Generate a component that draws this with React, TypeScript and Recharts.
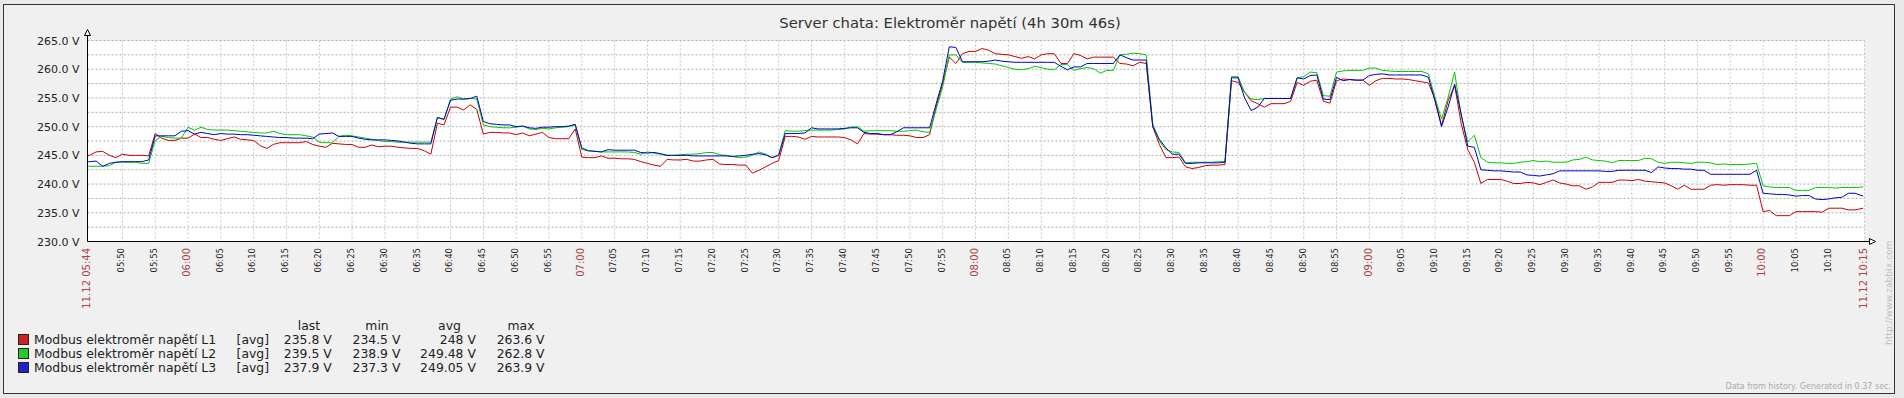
import React from "react";
import { LineChart, Line, XAxis, YAxis, CartesianGrid } from "recharts";

const times = [
  "05:44:41",
  "05:45", "05:46", "05:47", "05:48", "05:49",
  "05:50", "05:51", "05:52", "05:53", "05:54", "05:55", "05:56", "05:57", "05:58", "05:59",
  "06:00", "06:01", "06:02", "06:03", "06:04", "06:05", "06:06", "06:07", "06:08", "06:09",
  "06:10", "06:11", "06:12", "06:13", "06:14", "06:15", "06:16", "06:17", "06:18", "06:19",
  "06:20", "06:21", "06:22", "06:23", "06:24", "06:25", "06:26", "06:27", "06:28", "06:29",
  "06:30", "06:31", "06:32", "06:33", "06:34", "06:35", "06:36", "06:37", "06:38", "06:39",
  "06:40", "06:41", "06:42", "06:43", "06:44", "06:45", "06:46", "06:47", "06:48", "06:49",
  "06:50", "06:51", "06:52", "06:53", "06:54", "06:55", "06:56", "06:57", "06:58", "06:59",
  "07:00", "07:01", "07:02", "07:03", "07:04", "07:05", "07:06", "07:07", "07:08", "07:09",
  "07:10", "07:11", "07:12", "07:13", "07:14", "07:15", "07:16", "07:17", "07:18", "07:19",
  "07:20", "07:21", "07:22", "07:23", "07:24", "07:25", "07:26", "07:27", "07:28", "07:29",
  "07:30", "07:31", "07:32", "07:33", "07:34", "07:35", "07:36", "07:37", "07:38", "07:39",
  "07:40", "07:41", "07:42", "07:43", "07:44", "07:45", "07:46", "07:47", "07:48", "07:49",
  "07:50", "07:51", "07:52", "07:53", "07:54", "07:55", "07:56", "07:57", "07:58", "07:59",
  "08:00", "08:01", "08:02", "08:03", "08:04", "08:05", "08:06", "08:07", "08:08", "08:09",
  "08:10", "08:11", "08:12", "08:13", "08:14", "08:15", "08:16", "08:17", "08:18", "08:19",
  "08:20", "08:21", "08:22", "08:23", "08:24", "08:25", "08:26", "08:27", "08:28", "08:29",
  "08:30", "08:31", "08:32", "08:33", "08:34", "08:35", "08:36", "08:37", "08:38", "08:39",
  "08:40", "08:41", "08:42", "08:43", "08:44", "08:45", "08:46", "08:47", "08:48", "08:49",
  "08:50", "08:51", "08:52", "08:53", "08:54", "08:55", "08:56", "08:57", "08:58", "08:59",
  "09:00", "09:01", "09:02", "09:03", "09:04", "09:05", "09:06", "09:07", "09:08", "09:09",
  "09:10", "09:11", "09:12", "09:13", "09:14", "09:15", "09:16", "09:17", "09:18", "09:19",
  "09:20", "09:21", "09:22", "09:23", "09:24", "09:25", "09:26", "09:27", "09:28", "09:29",
  "09:30", "09:31", "09:32", "09:33", "09:34", "09:35", "09:36", "09:37", "09:38", "09:39",
  "09:40", "09:41", "09:42", "09:43", "09:44", "09:45", "09:46", "09:47", "09:48", "09:49",
  "09:50", "09:51", "09:52", "09:53", "09:54", "09:55", "09:56", "09:57", "09:58", "09:59",
  "10:00", "10:01", "10:02", "10:03", "10:04", "10:05", "10:06", "10:07", "10:08", "10:09",
  "10:10", "10:11", "10:12", "10:13", "10:14",
  "10:15:15",
];

const seriesL1 = [
  245.0,
  245.0, 245.6, 245.7, 245.0, 244.6,
  245.2, 245.0, 245.0, 245.0, 244.9, 248.8, 248.0, 247.6, 247.6, 248.0,
  248.0, 248.7, 248.1, 248.1, 247.8, 247.6, 247.9, 248.2, 247.8, 247.7,
  247.6, 246.7, 246.2, 246.9, 247.2, 247.2, 247.2, 247.2, 247.4, 246.9,
  246.6, 246.4, 247.1, 247.0, 246.9, 246.9, 246.4, 246.4, 246.8, 246.5,
  246.6, 246.6, 246.4, 246.3, 246.2, 246.2, 245.8, 245.2, 250.6, 250.3,
  253.4, 253.4, 252.9, 253.8, 253.0, 248.7, 249.0, 249.0, 248.9, 248.9,
  248.6, 248.9, 248.4, 248.7, 249.0, 248.1, 247.9, 247.9, 247.9, 249.6,
  244.7, 244.6, 244.6, 244.9, 244.5, 244.5, 244.4, 244.4, 244.3, 243.9,
  243.6, 243.3, 243.1, 244.3, 244.2, 244.2, 244.3, 244.0, 244.0, 244.2,
  244.3, 243.5, 243.4, 243.4, 243.3, 243.3, 241.9, 242.4, 243.0, 243.6,
  244.1, 248.3, 248.3, 248.2, 247.8, 248.3, 248.2, 248.2, 248.2, 248.2,
  248.1, 247.7, 247.0, 248.8, 248.7, 248.7, 248.6, 248.6, 248.5, 248.5,
  248.4, 248.1, 248.1, 248.6, 253.5, 257.5, 262.1, 261.0, 262.7, 263.1,
  263.1, 263.6, 263.3, 262.7, 262.6, 262.5, 262.2, 261.9, 262.2, 261.8,
  262.5, 262.7, 262.7, 261.0, 261.0, 262.7, 262.4, 261.8, 262.1, 262.1,
  262.1, 262.1, 261.0, 260.9, 260.6, 261.2, 261.0, 250.0, 246.9, 244.6,
  244.6, 244.7, 243.0, 242.7, 242.9, 243.2, 243.3, 243.3, 243.4, 258.0,
  257.7, 256.0, 254.5, 254.0, 253.4, 254.0, 254.0, 254.0, 254.4, 257.7,
  257.2, 257.9, 258.1, 254.4, 254.1, 258.0, 258.3, 258.2, 258.1, 258.1,
  257.2, 258.0, 258.4, 258.4, 258.3, 258.3, 258.2, 258.0, 257.8, 257.6,
  254.8, 250.2, 254.5, 257.2, 250.5, 246.0, 243.8, 240.1, 240.8, 240.8,
  240.8, 240.5, 240.1, 240.1, 240.3, 240.2, 239.9, 240.3, 240.7, 240.2,
  240.0, 239.7, 239.7, 239.1, 239.5, 240.3, 240.3, 240.3, 240.7, 240.7,
  240.6, 240.8, 240.5, 240.4, 240.3, 240.2, 239.7, 239.1, 239.8, 239.1,
  239.1, 239.1, 239.8, 239.9, 239.8, 239.9, 239.9, 239.9, 239.8, 239.8,
  235.2, 235.4, 234.5, 234.5, 234.5, 235.2, 235.2, 235.2, 235.2, 235.1,
  235.8, 235.8, 235.8, 235.5, 235.5,
  235.8,
];

const seriesL2 = [
  243.1,
  243.1, 243.1, 243.1, 243.2, 243.8,
  243.8, 243.8, 243.8, 243.6, 243.6, 247.6, 248.3, 248.1, 248.0, 248.0,
  249.9, 249.4, 249.9, 249.5, 249.4, 249.4, 249.4, 249.3, 249.2, 249.1,
  249.0, 248.9, 248.9, 249.2, 248.8, 248.6, 248.6, 248.6, 248.4, 248.2,
  247.3, 247.2, 247.2, 248.3, 248.5, 248.4, 248.2, 248.0, 247.8, 247.6,
  247.4, 247.4, 247.3, 247.3, 247.3, 247.3, 247.3, 247.3, 251.6, 251.2,
  254.8, 255.2, 254.8, 254.9, 254.8, 250.3, 250.0, 249.9, 249.8, 249.8,
  249.9, 250.1, 249.6, 249.5, 249.7, 249.6, 249.8, 249.9, 250.0, 250.3,
  246.0, 245.8, 245.7, 245.6, 245.6, 245.6, 245.6, 245.6, 245.5, 245.2,
  245.6, 245.4, 245.2, 245.0, 245.0, 245.1, 245.2, 245.2, 245.3, 245.5,
  245.5, 245.1, 245.0, 244.8, 244.6, 244.7, 245.0, 245.6, 245.2, 244.6,
  245.1, 249.3, 249.2, 249.2, 249.3, 249.4, 249.4, 249.4, 249.4, 249.5,
  249.6, 249.9, 250.0, 249.2, 249.3, 249.3, 249.3, 249.3, 249.2, 249.2,
  249.3, 249.4, 249.1, 249.0, 253.0, 257.0, 262.5, 262.5, 261.2, 261.2,
  261.2, 261.1, 261.0, 260.9, 260.6, 260.3, 260.0, 259.9, 260.1, 260.5,
  260.3, 260.0, 259.9, 260.8, 260.8, 259.8, 260.1, 260.3, 260.1, 259.3,
  259.8, 259.8, 262.5, 262.6, 262.8, 262.7, 262.5, 250.5, 247.5, 246.0,
  245.6, 245.5, 243.7, 243.8, 243.8, 243.8, 243.8, 243.9, 243.9, 258.7,
  258.7, 256.0, 254.8, 254.7, 254.9, 254.9, 254.9, 254.9, 254.9, 258.5,
  258.7, 259.5, 259.4, 255.4, 255.3, 259.5, 259.7, 259.8, 259.8, 259.8,
  260.2, 260.2, 259.8, 259.7, 259.6, 259.6, 259.6, 259.6, 259.6, 259.2,
  255.1, 251.3, 255.1, 259.5, 251.9, 247.3, 248.5, 244.6, 243.8, 243.7,
  243.7, 243.6, 243.6, 243.8, 243.9, 244.1, 243.9, 244.0, 243.8, 243.8,
  243.8, 244.2, 244.3, 244.7, 244.2, 244.1, 244.0, 243.7, 244.1, 244.1,
  244.1, 244.1, 244.5, 244.4, 243.8, 243.6, 243.8, 243.8, 243.7, 243.6,
  243.8, 243.8, 243.7, 243.4, 243.5, 243.4, 243.4, 243.4, 243.5, 243.6,
  239.7, 239.5, 239.4, 239.4, 239.4, 238.9, 238.9, 238.9, 239.4, 239.4,
  239.4, 239.3, 239.4, 239.4, 239.4,
  239.5,
];

const seriesL3 = [
  243.9,
  243.9, 244.0, 243.1, 243.6, 243.8,
  243.9, 243.9, 243.9, 243.9, 244.2, 248.4, 248.4, 248.4, 248.4, 249.2,
  249.3, 248.7, 249.0, 248.8, 248.6, 248.8, 248.7, 248.7, 248.6, 248.6,
  248.5, 248.4, 248.3, 248.2, 248.1, 248.1, 248.0, 248.0, 248.0, 247.9,
  248.7, 248.8, 248.9, 248.3, 248.3, 248.3, 248.0, 247.8, 247.7, 247.7,
  247.7, 247.6, 247.5, 247.3, 247.1, 247.0, 247.0, 247.0, 251.6, 251.3,
  254.6, 254.8, 254.8, 254.9, 255.3, 250.9, 250.5, 250.4, 250.3, 250.3,
  250.0, 250.1, 249.8, 249.7, 249.9, 249.9, 250.0, 250.0, 250.1, 250.4,
  246.3, 245.8, 245.7, 245.6, 246.0, 245.9, 245.9, 245.9, 245.9, 245.5,
  245.4, 245.5, 245.3, 245.0, 245.0, 245.0, 245.0, 244.9, 244.9, 244.9,
  244.9, 244.9, 244.9, 244.8, 244.9, 245.0, 245.2, 245.3, 245.1, 244.6,
  245.0, 248.8, 248.8, 248.8, 248.9, 249.8, 249.6, 249.6, 249.6, 249.6,
  249.7, 249.8, 249.8, 249.0, 248.8, 248.8, 248.6, 248.6, 249.1, 249.8,
  249.8, 249.8, 249.8, 249.8, 254.0, 258.0, 263.9, 263.8, 261.3, 261.3,
  261.3, 261.3, 261.4, 261.6, 261.4, 261.3, 261.2, 261.2, 261.2, 261.2,
  261.2, 261.2, 261.2, 260.5, 259.9, 260.4, 260.4, 261.0, 261.0, 261.0,
  261.0, 261.0, 262.5, 262.0, 261.6, 261.6, 261.6, 250.0, 247.8, 246.3,
  245.2, 245.2, 243.6, 243.6, 243.7, 243.7, 243.7, 243.7, 243.8, 258.5,
  258.5, 255.0, 252.8, 253.4, 254.9, 254.9, 254.9, 254.9, 254.9, 258.5,
  258.3, 258.9, 259.0, 254.8, 254.7, 258.6, 258.0, 258.2, 258.1, 258.1,
  258.9, 259.1, 259.2, 259.0, 259.0, 259.0, 259.0, 259.0, 259.0, 258.6,
  254.5, 250.0, 253.4, 257.4, 252.2, 246.6, 246.4, 242.5, 242.4, 242.3,
  242.3, 242.2, 242.1, 242.1, 241.6, 241.5, 241.4, 241.6, 241.8, 242.3,
  242.3, 242.3, 242.3, 242.3, 242.3, 242.3, 242.2, 242.2, 242.4, 242.4,
  242.4, 242.4, 242.4, 242.0, 243.0, 242.8, 242.7, 242.7, 242.6, 242.6,
  242.4, 242.4, 241.7, 241.7, 241.7, 241.7, 241.7, 241.7, 241.7, 242.4,
  238.4, 238.3, 238.2, 238.2, 238.1, 237.9, 238.0, 238.0, 237.4, 237.3,
  237.4, 237.6, 237.7, 238.4, 238.4,
  237.9,
];

const seriesNames = [
  "Modbus elektroměr napětí L1",
  "Modbus elektroměr napětí L2",
  "Modbus elektroměr napětí L3",
];
const seriesColors = ["#C80000", "#00C800", "#0000C8"];
const swatchColors = ["#CC2222", "#22CC22", "#2222CC"];
const statHeaders = ["last", "min", "avg", "max"];
const statLast = ["235.8 V", "239.5 V", "237.9 V"];
const statMin = ["234.5 V", "238.9 V", "237.3 V"];
const statAvg = ["248 V", "249.48 V", "249.05 V"];
const statMax = ["263.6 V", "262.8 V", "263.9 V"];

const yTicks = [230, 232.5, 235, 237.5, 240, 242.5, 245, 247.5, 250, 252.5, 255, 257.5, 260, 262.5, 265];

const xTickTimes = [
  "05:44:41", "05:50", "05:55", "06:00", "06:05", "06:10", "06:15", "06:20", "06:25", "06:30",
  "06:35", "06:40", "06:45", "06:50", "06:55", "07:00", "07:05", "07:10", "07:15", "07:20",
  "07:25", "07:30", "07:35", "07:40", "07:45", "07:50", "07:55", "08:00", "08:05", "08:10",
  "08:15", "08:20", "08:25", "08:30", "08:35", "08:40", "08:45", "08:50", "08:55", "09:00",
  "09:05", "09:10", "09:15", "09:20", "09:25", "09:30", "09:35", "09:40", "09:45", "09:50",
  "09:55", "10:00", "10:05", "10:10", "10:15:27",
];
const xTickLabels = [
  "11.12 05:44", "05:50", "05:55", "06:00", "06:05", "06:10", "06:15", "06:20", "06:25", "06:30",
  "06:35", "06:40", "06:45", "06:50", "06:55", "07:00", "07:05", "07:10", "07:15", "07:20",
  "07:25", "07:30", "07:35", "07:40", "07:45", "07:50", "07:55", "08:00", "08:05", "08:10",
  "08:15", "08:20", "08:25", "08:30", "08:35", "08:40", "08:45", "08:50", "08:55", "09:00",
  "09:05", "09:10", "09:15", "09:20", "09:25", "09:30", "09:35", "09:40", "09:45", "09:50",
  "09:55", "10:00", "10:05", "10:10", "11.12 10:15",
];

const TITLE = "Server chata: Elektroměr napětí (4h 30m 46s)";
const FOOTER = "Data from history. Generated in 0.37 sec.";
const URL_TEXT = "http://www.zabbix.com";

const toMin = (s: string) => {
  const p = s.split(":");
  return Number(p[0]) * 60 + Number(p[1]) + (p[2] ? Number(p[2]) / 60 : 0);
};

const data = times.map((t, i) => ({
  t: toMin(t),
  l1: seriesL1[i],
  l2: seriesL2[i],
  l3: seriesL3[i],
}));

const xTickValues = xTickTimes.map(toMin);
const FONT = "DejaVu Sans";

const XTick = (props: any) => {
  const { x, payload } = props;
  const idx = xTickValues.findIndex((v) => Math.abs(v - payload.value) < 1e-6);
  const label = idx >= 0 ? xTickLabels[idx] : "";
  const red = label.includes(".") || label.endsWith(":00");
  return (
    <text
      transform={`translate(${x + (red ? 2.2 : 1.8)},248) rotate(-90)`}
      textAnchor="end"
      fill={red ? "#aa4444" : "#222"}
      fontSize={red ? 10 : 8.5}
      fontFamily={FONT}
    >
      {label}
    </text>
  );
};

const YTick = (props: any) => {
  const { y, payload } = props;
  if (payload.value % 5 !== 0) return <g />;
  return (
    <text x={79.5} y={y + 4} textAnchor="end" fill="#222" fontSize={11} fontFamily={FONT}>
      {payload.value.toFixed(1) + " V"}
    </text>
  );
};

const legendRows = [0, 1, 2];
const colEnds = [331.7, 400.4, 475.9, 544.6];
const headerCenters = [309, 377, 449.5, 521];

export default function App() {
  return (
    <div style={{ position: "absolute", left: 0, top: 0, width: 1904, height: 398, background: "#e9e9e9" }}>
      <div
        style={{
          position: "absolute",
          left: 3,
          top: 4,
          width: 1892,
          height: 390,
          boxSizing: "border-box",
          border: "1px solid #333",
          background: "#f0f0f0",
        }}
      />
      <div style={{ position: "absolute", left: 0, top: 0 }}>
        <LineChart
          width={1904}
          height={398}
          data={data}
          margin={{ top: 40.5, right: 39.5, bottom: 46.5, left: 7.5 }}
        >
          <CartesianGrid
            horizontal={true}
            vertical={false}
            stroke="#ababab"
            strokeDasharray="2 2"
            fill="#ffffff"
            fillOpacity={1}
          />
          <CartesianGrid horizontal={false} vertical={true} stroke="#c6c6c6" strokeDasharray="2 2" />
          <XAxis
            dataKey="t"
            type="number"
            domain={[xTickValues[0], xTickValues[xTickValues.length - 1]]}
            ticks={xTickValues}
            interval={0}
            allowDataOverflow
            height={110}
            tickLine={false}
            axisLine={{ stroke: "#000" }}
            tick={(p: any) => <XTick {...p} />}
          />
          <YAxis
            type="number"
            domain={[230, 265]}
            ticks={yTicks}
            interval={0}
            allowDataOverflow
            width={80}
            tickLine={false}
            axisLine={{ stroke: "#000" }}
            tick={(p: any) => <YTick {...p} />}
          />
          <Line type="linear" dataKey="l1" stroke={seriesColors[0]} strokeWidth={1} dot={false} isAnimationActive={false} />
          <Line type="linear" dataKey="l2" stroke={seriesColors[1]} strokeWidth={1} dot={false} isAnimationActive={false} />
          <Line type="linear" dataKey="l3" stroke={seriesColors[2]} strokeWidth={1} dot={false} isAnimationActive={false} />
        </LineChart>
      </div>
      <svg
        width={1904}
        height={398}
        style={{ position: "absolute", left: 0, top: 0, pointerEvents: "none" }}
        fontFamily={FONT}
      >
        <text x={950} y={27.5} textAnchor="middle" fontSize={14.8} fill="#333">
          {TITLE}
        </text>
        {/* axis arrows */}
        <line x1={87.5} y1={34} x2={87.5} y2={41} stroke="#000" />
        <polygon points="84.5,35.5 87.5,29.5 90.5,35.5" fill="#fff" stroke="#000" strokeWidth={1} />
        <line x1={1864} y1={241.5} x2={1870} y2={241.5} stroke="#000" />
        <polygon points="1869.5,238.5 1875.5,241.5 1869.5,244.5" fill="#fff" stroke="#000" strokeWidth={1} />
        {/* legend */}
        {statHeaders.map((h, i) => (
          <text key={h} x={headerCenters[i]} y={330} textAnchor="middle" fontSize={12.4} fill="#222">
            {h}
          </text>
        ))}
        {legendRows.map((r) => {
          const base = 344 + r * 14;
          const vals = [statLast[r], statMin[r], statAvg[r], statMax[r]];
          return (
            <g key={r}>
              <rect x={18.5} y={base - 9.5} width={10} height={10} fill={swatchColors[r]} stroke="#222" />
              <text x={34} y={base} fontSize={12.4} fill="#222">
                {seriesNames[r]}
              </text>
              <text x={236.6} y={base} fontSize={12.4} fill="#222">
                [avg]
              </text>
              {vals.map((v, k) => (
                <text key={k} x={colEnds[k]} y={base} textAnchor="end" fontSize={12.4} fill="#222">
                  {v}
                </text>
              ))}
            </g>
          );
        })}
        <text x={1891} y={389} textAnchor="end" fontSize={8} fill="#aaaaaa">
          {FOOTER}
        </text>
        <text transform="translate(1892,345) rotate(-90)" textAnchor="start" fontSize={9.1} fill="#c0c0c0">
          {URL_TEXT}
        </text>
      </svg>
    </div>
  );
}
